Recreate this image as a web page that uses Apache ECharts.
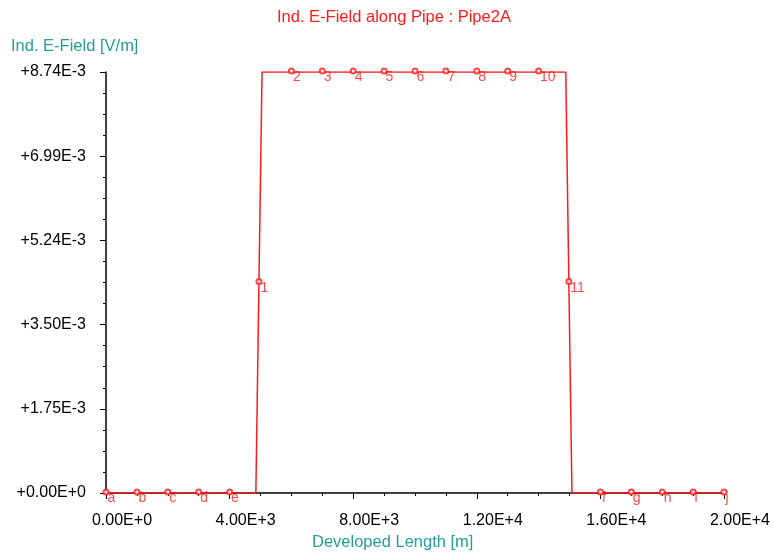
<!DOCTYPE html>
<html>
<head>
<meta charset="utf-8">
<title>Ind. E-Field along Pipe</title>
<script src="https://cdn.jsdelivr.net/npm/echarts@6/dist/echarts.min.js"></script>
<style>
  html, body { margin: 0; padding: 0; background: #fff; }
  #chart { width: 773px; height: 556px; }
</style>
</head>
<body>
<div id="chart"></div>
<script>
// trace of the field along the pipe (includes the corner points of the steps)
const pathX = [0, 1000, 2000, 3000, 4000, 4850, 4950, 5050, 6000, 7000, 8000, 9000, 10000,
  11000, 12000, 13000, 14000, 14880, 14980, 15080, 16000, 17000, 18000, 19000, 20000]
const pathY = [0, 0, 0, 0, 0, 0, 0.00437, 0.00874, 0.00874, 0.00874, 0.00874, 0.00874, 0.00874,
  0.00874, 0.00874, 0.00874, 0.00874, 0.00874, 0.00437, 0, 0, 0, 0, 0, 0]

// labelled nodes
const nodeNames = ['a', 'b', 'c', 'd', 'e', '1', '2', '3', '4', '5', '6', '7', '8', '9', '10', '11',
  'f', 'g', 'h', 'i', 'j']
const nodeX = [0, 1000, 2000, 3000, 4000, 4950, 6000, 7000, 8000, 9000, 10000, 11000, 12000,
  13000, 14000, 14980, 16000, 17000, 18000, 19000, 20000]
const nodeY = [0, 0, 0, 0, 0, 0.00437, 0.00874, 0.00874, 0.00874, 0.00874, 0.00874, 0.00874,
  0.00874, 0.00874, 0.00874, 0.00437, 0, 0, 0, 0, 0]

// axis settings
const xMin = 0
const xMax = 20000
const xStep = 4000
const yMin = 0
const yMax = 0.00874
const yStep = 0.001748

const FONT = "'Liberation Sans', Arial, sans-serif"
const RED = '#ff1a1a'
const TEAL = '#259c9c'

const sci = (v) => v.toExponential(2).replace('e', 'E')

const chart = echarts.init(document.getElementById('chart'))
chart.setOption({
  backgroundColor: '#fff',
  animation: false,
  title: [
    { // main title
      text: 'Ind. E-Field along Pipe : Pipe2A',
      left: 277,
      top: 9,
      padding: 0,
      textStyle: { color: RED, fontSize: 16.5, fontWeight: 'normal', fontFamily: FONT }
    },
    { // y axis name
      text: 'Ind. E-Field [V/m]',
      left: 11,
      top: 38,
      padding: 0,
      textStyle: { color: TEAL, fontSize: 16.5, fontWeight: 'normal', fontFamily: FONT }
    },
    { // x axis name
      text: 'Developed Length [m]',
      left: 312,
      top: 534,
      padding: 0,
      textStyle: { color: TEAL, fontSize: 16.5, fontWeight: 'normal', fontFamily: FONT }
    }
  ],
  grid: { left: 106, right: 48.5, top: 72, bottom: 63 },
  xAxis: {
    type: 'value',
    min: xMin,
    max: xMax,
    interval: xStep,
    axisLine: { show: true, lineStyle: { color: '#000', width: 1.5 } },
    axisTick: { show: true, length: 6, lineStyle: { color: '#000' } },
    minorTick: { show: true, splitNumber: 4, length: 3, lineStyle: { color: '#000' } },
    splitLine: { show: false },
    axisLabel: {
      margin: 20,
      color: '#000',
      fontSize: 16,
      fontFamily: FONT,
      formatter: (v) => '{s| }' + sci(v),
      rich: { s: { width: 32 } }
    }
  },
  yAxis: {
    type: 'value',
    min: yMin,
    max: yMax,
    interval: yStep,
    axisLine: { show: true, lineStyle: { color: '#000', width: 1.5 } },
    axisTick: { show: true, length: 6, lineStyle: { color: '#000' } },
    minorTick: { show: true, splitNumber: 4, length: 3, lineStyle: { color: '#000' } },
    splitLine: { show: false },
    axisLabel: {
      margin: 20,
      color: '#000',
      fontSize: 16,
      fontFamily: FONT,
      formatter: (v) => '+' + sci(v)
    }
  },
  series: [
    {
      name: 'trace',
      type: 'line',
      showSymbol: false,
      lineStyle: { color: RED, width: 1.5 },
      data: pathX.map((x, i) => [x, pathY[i]]),
      z: 3
    },
    {
      name: 'nodes',
      type: 'scatter',
      symbol: 'emptyCircle',
      symbolSize: 5,
      symbolOffset: [0, -1],
      itemStyle: { color: RED, borderWidth: 1.2 },
      label: {
        show: true,
        position: [5, 3],
        align: 'left',
        verticalAlign: 'top',
        color: RED,
        fontSize: 14,
        fontFamily: FONT,
        formatter: (p) => p.name
      },
      data: nodeX.map((x, i) => ({ name: nodeNames[i], value: [x, nodeY[i]] })),
      z: 4
    }
  ]
})
</script>
</body>
</html>
